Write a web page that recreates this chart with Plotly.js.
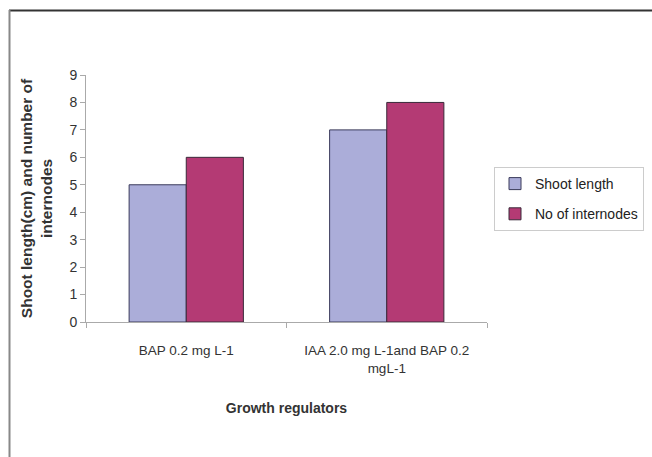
<!DOCTYPE html>
<html>
<head>
<meta charset="utf-8">
<script src="https://cdn.plot.ly/plotly-3.0.1.min.js"></script>
<style>html,body{margin:0;padding:0;background:#fff;}#chart{width:652px;height:457px;}</style>
</head>
<body>
<div id="chart"></div>
<script>
var categories = ["BAP 0.2 mg L-1", "IAA 2.0 mg L-1and BAP 0.2<br>mgL-1"];
var seriesNames = ["Shoot length", "No of internodes"];
var shootLength = [5, 7];
var internodes = [6, 8];
var yTicks = [0, 1, 2, 3, 4, 5, 6, 7, 8, 9];

var W = 652, H = 457;
var m = {l: 86, r: 165, t: 75, b: 135, autoexpand: false};
var pw = W - m.l - m.r, ph = H - m.t - m.b;
function px2x(px) { return (px - m.l) / pw; }
function py2y(py) { return (H - m.b - py) / ph; }

var fontFam = "Liberation Sans, Arial, sans-serif";

var traces = [
  {type: "bar", name: seriesNames[0], x: categories, y: shootLength, legendgroup: "a",
   marker: {color: "#ABADD9", line: {color: "#3A3A5A", width: 1}}},
  {type: "bar", name: seriesNames[1], x: categories, y: internodes, legendgroup: "b",
   marker: {color: "#B43A74", line: {color: "#3A2A3A", width: 1}}}
];

var layout = {
  width: W, height: H,
  margin: m,
  paper_bgcolor: "#fff", plot_bgcolor: "#fff",
  font: {family: fontFam, size: 13, color: "#333"},
  barmode: "group",
  bargap: 0.43, bargroupgap: 0,
  showlegend: true,
  legend: {
    x: px2x(494), y: py2y(167), xanchor: "left", yanchor: "top",
    bordercolor: "#ccc", borderwidth: 1, bgcolor: "#fff",
    font: {size: 14, color: "#222", family: fontFam},
    itemwidth: 30, tracegroupgap: 9
  },
  xaxis: {
    showline: true, linecolor: "#aaa", linewidth: 1,
    ticks: "outside", tickson: "boundaries", ticklen: 5, tickcolor: "#aaa",
    ticklabelstandoff: 16,
    showgrid: false, zeroline: false,
    tickfont: {size: 13.5, color: "#333"},
    title: {text: "<b>Growth regulators</b>", font: {size: 14, color: "#333"}, standoff: 28}
  },
  yaxis: {
    range: [0, 9], tickvals: yTicks, ticktext: yTicks.map(String),
    showline: true, linecolor: "#aaa", linewidth: 1,
    ticks: "outside", ticklen: 5, tickcolor: "#aaa",
    showgrid: false, zeroline: false,
    tickfont: {size: 14, color: "#333"},
    title: {text: "<b>Shoot length(cm) and number of<br>internodes</b>", font: {size: 15.5, color: "#333"}, standoff: 12}
  },
  shapes: [
    {type: "line", xref: "paper", yref: "paper", x0: px2x(9), x1: px2x(652), y0: py2y(10.5), y1: py2y(10.5),
     line: {color: "#333", width: 2}},
    {type: "line", xref: "paper", yref: "paper", x0: px2x(9.5), x1: px2x(9.5), y0: py2y(10), y1: py2y(457),
     line: {color: "#888", width: 2}}
  ]
};

Plotly.newPlot("chart", traces, layout, {displayModeBar: false, staticPlot: true});
</script>
</body>
</html>
